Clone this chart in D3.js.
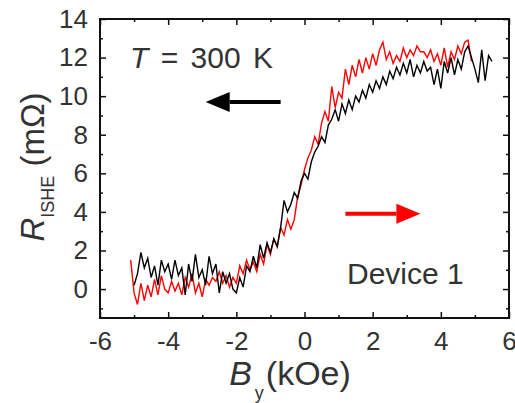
<!DOCTYPE html>
<html>
<head>
<meta charset="utf-8">
<script src="https://d3js.org/d3.v7.min.js"></script>
<style>
  body { margin: 0; background: #fff; }
  text { font-family: "Liberation Sans", Arial, sans-serif; fill: #333; }
</style>
</head>
<body>
<svg width="515" height="403"></svg>
<script>
// field (kOe) and R_ISHE (mOhm)
const redB = [-5.1,-5.0,-4.9,-4.8,-4.7,-4.6,-4.5,-4.4,-4.3,-4.2,-4.1,-4.0,-3.9,-3.8,-3.7,-3.6,-3.5,-3.4,-3.3,-3.2,-3.1,-3.0,
  -2.9,-2.8,-2.7,-2.6,-2.5,-2.4,-2.3,-2.2,-2.1,-2.0,-1.9,-1.8,-1.7,-1.6,-1.5,-1.4,-1.3,-1.2,-1.1,-1.0,
  -0.9,-0.8,-0.7,-0.6,-0.5,-0.4,-0.3,-0.2,-0.1,0.0,0.1,0.2,0.3,0.4,0.5,0.6,0.7,0.8,0.9,1.0,
  1.1,1.2,1.3,1.4,1.5,1.6,1.7,1.8,1.9,2.0,2.1,2.2,2.3,2.4,2.5,2.6,2.7,2.8,2.9,3.0,
  3.1,3.2,3.3,3.4,3.5,3.6,3.7,3.8,3.9,4.0,4.1,4.2,4.3,4.4,4.5,4.6,4.7,4.8,4.9];
const redR = [1.5,-0.2,-0.8,0.3,-0.6,0.2,-0.4,0.5,-0.3,0.7,0.0,-0.2,0.4,-0.1,0.3,-0.3,0.6,0.1,0.8,-0.2,0.3,-0.4,
  0.5,0.2,0.6,0.4,0.9,0.3,0.7,0.1,0.6,0.3,1.2,0.8,1.5,1.0,1.4,0.9,1.8,1.3,2.3,1.8,
  2.6,2.2,3.2,2.8,3.6,3.1,3.6,4.8,5.4,6.2,6.8,7.2,7.9,7.5,8.6,9.2,8.7,10.5,9.4,10.2,
  9.9,11.4,10.6,11.6,11.0,11.9,11.2,12.0,11.4,12.2,11.6,12.4,12.8,11.9,12.3,11.7,12.1,11.8,12.5,12.0,
  12.4,12.1,12.6,12.3,12.3,12.0,12.4,11.8,12.2,11.6,12.5,11.5,12.3,11.9,12.6,12.2,12.8,12.9,11.8];

const blackB = [-5.0,-4.9,-4.8,-4.7,-4.6,-4.5,-4.4,-4.3,-4.2,-4.1,-4.0,-3.9,-3.8,-3.7,-3.6,-3.5,-3.4,-3.3,-3.2,-3.1,-3.0,
  -2.9,-2.8,-2.7,-2.6,-2.5,-2.4,-2.3,-2.2,-2.1,-2.0,-1.9,-1.8,-1.7,-1.6,-1.5,-1.4,-1.3,-1.2,-1.1,-1.0,
  -0.9,-0.8,-0.7,-0.6,-0.5,-0.4,-0.3,-0.2,-0.1,0.0,0.1,0.2,0.3,0.4,0.5,0.6,0.7,0.8,0.9,1.0,
  1.1,1.2,1.3,1.4,1.5,1.6,1.7,1.8,1.9,2.0,2.1,2.2,2.3,2.4,2.5,2.6,2.7,2.8,2.9,3.0,
  3.1,3.2,3.3,3.4,3.5,3.6,3.7,3.8,3.9,4.0,4.1,4.2,4.3,4.4,4.5,4.6,4.7,4.8,4.9,5.0,
  5.1,5.2,5.3,5.4,5.5];
const blackR = [0.2,0.8,1.9,1.1,1.6,0.6,1.2,0.2,1.5,0.9,1.3,0.5,1.5,0.7,1.1,-0.3,1.3,0.4,1.8,0.6,1.0,
  0.2,1.7,0.8,1.3,-0.2,0.9,0.3,0.8,0.0,-0.2,0.6,0.1,1.2,0.9,1.7,1.1,2.3,1.6,2.4,1.9,
  2.6,2.2,3.2,4.6,4.0,4.4,5.0,4.7,5.6,6.0,5.7,6.6,7.1,7.4,7.9,7.6,8.5,8.8,9.3,8.7,
  9.6,9.1,9.8,9.3,10.0,9.7,10.3,9.9,10.6,10.2,10.8,10.4,11.0,10.6,11.3,10.9,11.5,11.1,11.7,11.2,
  11.9,11.0,11.6,11.2,11.8,11.3,11.5,10.6,11.4,10.4,11.8,11.2,12.0,11.1,11.9,11.4,12.3,12.6,12.0,11.4,
  10.7,12.4,10.8,12.1,11.8];

const xTicks = [-6, -4, -2, 0, 2, 4, 6];
const yTicks = [0, 2, 4, 6, 8, 10, 12, 14];

var svg = d3.select("svg");
var pLeft = 100, pRight = 509, pTop = 19, pBottom = 318;

var x = d3.scaleLinear().domain([-6, 6]).range([pLeft, pRight]);
var y = d3.scaleLinear().domain([-1.5, 14]).range([pBottom, pTop]);

var line = d3.line()
  .x(d => x(d[0]))
  .y(d => y(d[1]));

// red sweep first, black on top
svg.append("path")
  .datum(d3.zip(redB, redR))
  .attr("d", line)
  .attr("fill", "none")
  .attr("stroke", "#ff0000")
  .attr("stroke-width", 1.4);

svg.append("path")
  .datum(d3.zip(blackB, blackR))
  .attr("d", line)
  .attr("fill", "none")
  .attr("stroke", "#000")
  .attr("stroke-width", 1.4);

// axes, ticks pointing inward
function styleAxis(g) {
  g.select(".domain").remove();
  g.selectAll(".tick line").attr("stroke", "#111").attr("stroke-width", 1.5);
  g.selectAll(".tick text").style("font-size", "26px").attr("fill", "#333");
}

var plain = d => String(d);
var minorX = [-5, -3, -1, 1, 3, 5];
var minorY = [-1, 1, 3, 5, 7, 9, 11, 13];

svg.append("g").attr("transform", "translate(0," + pBottom + ")")
  .call(d3.axisBottom(x).tickValues(xTicks).tickSize(-6).tickPadding(14).tickFormat(plain))
  .call(styleAxis);
svg.append("g").attr("transform", "translate(0," + pBottom + ")")
  .call(d3.axisBottom(x).tickValues(minorX).tickSize(-3).tickFormat(""))
  .call(styleAxis);
svg.append("g").attr("transform", "translate(0," + pTop + ")")
  .call(d3.axisTop(x).tickValues(xTicks).tickSize(-6).tickFormat(""))
  .call(styleAxis);
svg.append("g").attr("transform", "translate(0," + pTop + ")")
  .call(d3.axisTop(x).tickValues(minorX).tickSize(-3).tickFormat(""))
  .call(styleAxis);

svg.append("g").attr("transform", "translate(" + pLeft + ",0)")
  .call(d3.axisLeft(y).tickValues(yTicks).tickSize(-6).tickPadding(12).tickFormat(plain))
  .call(styleAxis);
svg.append("g").attr("transform", "translate(" + pLeft + ",0)")
  .call(d3.axisLeft(y).tickValues(minorY).tickSize(-3).tickFormat(""))
  .call(styleAxis);
svg.append("g").attr("transform", "translate(" + pRight + ",0)")
  .call(d3.axisRight(y).tickValues(yTicks).tickSize(-6).tickFormat(""))
  .call(styleAxis);
svg.append("g").attr("transform", "translate(" + pRight + ",0)")
  .call(d3.axisRight(y).tickValues(minorY).tickSize(-3).tickFormat(""))
  .call(styleAxis);

// frame
svg.append("rect")
  .attr("x", pLeft).attr("y", pTop)
  .attr("width", pRight - pLeft).attr("height", pBottom - pTop)
  .attr("fill", "none").attr("stroke", "#111").attr("stroke-width", 2);

// axis titles
var xt = svg.append("text")
  .attr("x", 290).attr("y", 385)
  .attr("text-anchor", "middle")
  .style("font-size", "34px");
xt.append("tspan").text("B").style("font-style", "italic");
xt.append("tspan").text("y").style("font-size", "18px").attr("dy", 14).attr("dx", 3);
xt.append("tspan").text("(kOe)").attr("dy", -14).attr("dx", 2);

var yt = svg.append("text")
  .attr("transform", "translate(44,167) rotate(-90)")
  .attr("text-anchor", "middle")
  .style("font-size", "33px");
yt.append("tspan").text("R").style("font-style", "italic");
yt.append("tspan").text("ISHE").style("font-size", "18px").attr("dy", 10);
yt.append("tspan").text(" (m\u03A9)").attr("dy", -10);

// annotations
var tt = svg.append("text")
  .attr("x", 130).attr("y", 68)
  .style("font-size", "30px")
  .style("word-spacing", "4px")
  .attr("fill", "#111");
tt.append("tspan").text("T").style("font-style", "italic");
tt.append("tspan").text(" = 300 K");

svg.append("text")
  .attr("x", 347).attr("y", 284)
  .style("font-size", "30px")
  .attr("fill", "#222")
  .text("Device 1");

function arrow(x0, x1, yv, color, dir) {
  var yy = y(yv);
  var tip = x(dir < 0 ? x0 : x1);
  var tail = x(dir < 0 ? x1 : x0);
  var base = tip - dir * 24;
  svg.append("line")
    .attr("x1", tail).attr("x2", base)
    .attr("y1", yy).attr("y2", yy)
    .attr("stroke", color).attr("stroke-width", 4);
  svg.append("path")
    .attr("d", "M" + tip + "," + yy + "L" + base + "," + (yy - 10) + "L" + base + "," + (yy + 10) + "Z")
    .attr("fill", color);
}
arrow(-2.9, -0.7, 9.7, "#000", -1);
arrow(1.2, 3.4, 3.9, "#ff0000", 1);
</script>
</body>
</html>
